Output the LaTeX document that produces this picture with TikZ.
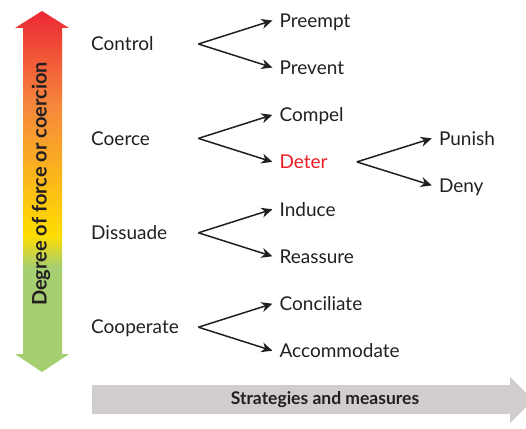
\documentclass[tikz,border=0pt]{standalone}
\usepackage{fontspec}
\setmainfont{Lato}
\usepackage{tikz}
\usetikzlibrary{%
   arrows.meta,%
   calc,%
   positioning}
\definecolor{txtblk}{RGB}{35,31,32}
\definecolor{detred}{RGB}{237,28,36}
\definecolor{barg}{RGB}{209,205,204}
\definecolor{frcred}{RGB}{236,40,52}
\definecolor{frcorg}{RGB}{245,135,60}
\definecolor{frcyel}{RGB}{255,221,0}
\definecolor{frcgrn}{RGB}{165,207,112}
\pgfdeclareverticalshading{forcegrd}{100bp}{color(0bp)=(frcgrn); color(39.5bp)=(frcgrn); color(44bp)=(frcyel); color(62bp)=(frcorg); color(75bp)=(frcred); color(100bp)=(frcred)}

\begin{document}
\begin{tikzpicture}
[x=1pt, y=1pt,
 font=\fontsize{19}{22}\selectfont,
 every node/.style={text=txtblk},
 lft/.style={anchor=west, inner sep=0pt, text width=107pt, text height=13.5pt, text depth=0pt},
 rgt/.style={anchor=west, inner xsep=7pt, inner ysep=0pt, text height=13.5pt, text depth=0pt},
 lbl/.style={font=\bfseries\fontsize{17.5}{20}\selectfont},
 pfeil/.style={-{Stealth[length=11pt, width=10pt, inset=3.5pt]}, line width=1.5pt, txtblk}]
\useasboundingbox (0,0) rectangle (526,428);
\clip (0,0) rectangle (526,428);
% the two big arrows
\shade[shading=forcegrd] (42,417) -- (69,400) -- (62,400) -- (62,74) -- (69,74) -- (42,56)
   -- (15,74) -- (23,74) -- (23,400) -- (15,400) -- cycle;
\fill[barg] (92,43) -- (510,43) -- (510,51) -- (533,28) -- (510,5) -- (510,14) -- (92,14) -- cycle;
\node (forcelb) [lbl, font=\bfseries\fontsize{20}{22}\selectfont, rotate=90] at (41,244) {Degree of force or coercion};
\node (stratlb) [lbl] at (325,28) {Strategies and measures};
% strategies
\node (control) [lft] at (91,384) {Control};
\node (coerce) [lft, below=80.5pt of control] {Coerce};
\node (dissuad) [lft, below=80.5pt of coerce] {Dissuade};
\node (coopera) [lft, below=80.5pt of dissuad] {Cooperate};
% measures
\node (preempt) [rgt, right=74pt of control, yshift=23.5pt] {Preempt};
\node (prevent) [rgt, right=74pt of control, yshift=-23.5pt] {Prevent};
\node (compel) [rgt, right=74pt of coerce, yshift=23.5pt] {Compel};
\node (deter) [rgt, right=74pt of coerce, yshift=-23.5pt, text=detred] {Deter};
\node (induce) [rgt, right=74pt of dissuad, yshift=23.5pt] {Induce};
\node (reassur) [rgt, right=74pt of dissuad, yshift=-23.5pt] {Reassure};
\node (concil) [rgt, right=74pt of coopera, yshift=23.5pt] {Conciliate};
\node (accomod) [rgt, right=74pt of coopera, yshift=-23.5pt] {Accommodate};
\coordinate [right=22pt of deter] (detsplt);
\node (punish) [rgt, right=75pt of detsplt, yshift=23.5pt] {Punish};
\node (deny) [rgt, right=75pt of detsplt, yshift=-23.5pt] {Deny};
\draw[pfeil] (control.east) -- (preempt.west);
\draw[pfeil] (control.east) -- (prevent.west);
\draw[pfeil] (coerce.east) -- (compel.west);
\draw[pfeil] (coerce.east) -- (deter.west);
\draw[pfeil] (dissuad.east) -- (induce.west);
\draw[pfeil] (dissuad.east) -- (reassur.west);
\draw[pfeil] (coopera.east) -- (concil.west);
\draw[pfeil] (coopera.east) -- (accomod.west);
\draw[pfeil] (detsplt) -- (punish.west);
\draw[pfeil] (detsplt) -- (deny.west);
\end{tikzpicture}
\end{document}
